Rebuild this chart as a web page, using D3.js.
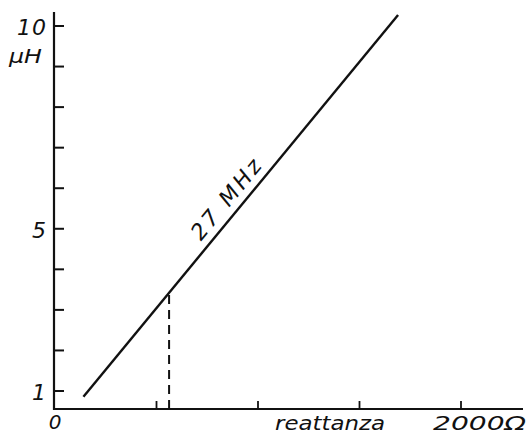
<!doctype html>
<html>
  <head>
    <meta charset="utf-8">
    <title>Reattanza 27 MHz</title>
    <script src="https://cdnjs.cloudflare.com/ajax/libs/d3/7.8.5/d3.min.js"></script>
    <style>
      body { margin: 0; background: #fff; }
      text { font-family: "DejaVu Sans", sans-serif; font-style: italic; fill: #111; }
    </style>
  </head>
  <body>
    <div id="chart"></div>
    <script>
      // data
      const xTicks = [0, 500, 1000, 1500, 2000];
      const yTicks = [1, 2, 3, 4, 5, 6, 7, 8, 9, 10];
      const yLabels = [{v: 10, t: '10'}, {v: 5, t: '5'}, {v: 1, t: '1'}];
      const lineX = [140, 1690];       // ohm
      const lineY = [0.86, 10.27];     // microhenry
      const markX = 562, markY = 3.41; // dashed marker

      const width = 532, height = 435;
      const svg = d3.select('#chart').append('svg')
        .attr('width', width)
        .attr('height', height);

      const x = d3.scaleLinear().domain([0, 2000]).range([55, 461]);
      const y = d3.scaleLinear().domain([1, 10]).range([391, 26]);

      // axes
      const axisY0 = 409;
      svg.append('line')
        .attr('x1', 54).attr('x2', 54)
        .attr('y1', 12).attr('y2', axisY0 + 1)
        .attr('stroke', '#111').attr('stroke-width', 2.2);
      svg.append('line')
        .attr('x1', 53).attr('x2', 523)
        .attr('y1', axisY0).attr('y2', axisY0)
        .attr('stroke', '#111').attr('stroke-width', 2.2);

      svg.selectAll('.ytick')
        .data(yTicks)
        .join('line')
        .attr('class', 'ytick')
        .attr('x1', 54).attr('x2', 64)
        .attr('y1', d => y(d)).attr('y2', d => y(d))
        .attr('stroke', '#111').attr('stroke-width', 2);

      svg.selectAll('.xtick')
        .data(xTicks.slice(1))
        .join('line')
        .attr('class', 'xtick')
        .attr('x1', d => x(d)).attr('x2', d => x(d))
        .attr('y1', axisY0).attr('y2', axisY0 - 8)
        .attr('stroke', '#111').attr('stroke-width', 1.8);

      svg.selectAll('.ylab')
        .data(yLabels)
        .join('text')
        .attr('class', 'ylab')
        .attr('x', 47)
        .attr('y', d => y(d.v) + 9)
        .attr('text-anchor', 'end')
        .attr('font-size', 22)
        .attr('letter-spacing', 1)
        .text(d => d.t);

      svg.append('text')
        .attr('x', 9).attr('y', y(9) - 4)
        .attr('font-size', 19)
        .attr('textLength', 33)
        .attr('lengthAdjust', 'spacingAndGlyphs')
        .text('μH');

      svg.append('text')
        .attr('x', 55).attr('y', 429)
        .attr('text-anchor', 'middle')
        .attr('font-size', 20)
        .text('0');
      svg.append('text')
        .attr('x', 275).attr('y', 430)
        .attr('font-size', 20)
        .attr('textLength', 110)
        .attr('lengthAdjust', 'spacingAndGlyphs')
        .text('reattanza');
      svg.append('text')
        .attr('x', 433).attr('y', 430)
        .attr('font-size', 20)
        .attr('textLength', 93)
        .attr('lengthAdjust', 'spacingAndGlyphs')
        .text('2000Ω');

      // 27 MHz line
      const pts = lineX.map((v, i) => [x(v), y(lineY[i])]);
      svg.append('path')
        .attr('d', d3.line()(pts))
        .attr('stroke', '#111').attr('stroke-width', 2.4)
        .attr('fill', 'none');

      svg.append('line')
        .attr('x1', x(markX)).attr('x2', x(markX))
        .attr('y1', axisY0).attr('y2', y(markY))
        .attr('stroke', '#111').attr('stroke-width', 2)
        .attr('stroke-dasharray', '9,6');

      // label placed along the line
      const ang = Math.atan2(pts[1][1] - pts[0][1], pts[1][0] - pts[0][0]) * 180 / Math.PI;
      const lx = 906;
      const ly = lineY[0] + (lx - lineX[0]) / (lineX[1] - lineX[0]) * (lineY[1] - lineY[0]);
      svg.append('text')
        .attr('transform', `translate(${x(lx)},${y(ly)}) rotate(${ang})`)
        .attr('y', -8)
        .attr('text-anchor', 'middle')
        .attr('font-size', 22)
        .attr('letter-spacing', 3)
        .text('27 MHz');
    </script>
  </body>
</html>
